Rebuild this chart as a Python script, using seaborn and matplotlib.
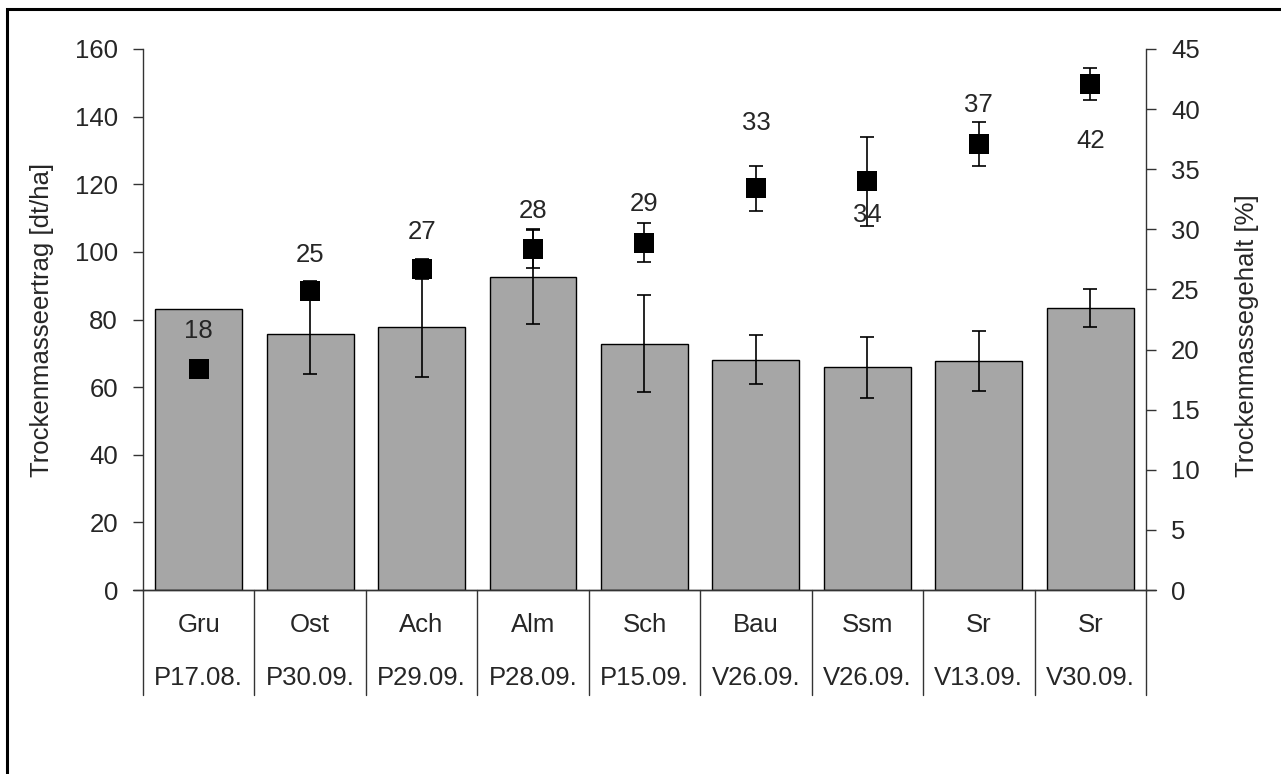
import pandas as pd
import matplotlib
matplotlib.use("Agg")
import matplotlib.pyplot as plt
from matplotlib.patches import Rectangle
import seaborn as sns
import numpy as np

# --- Données ---
sorten = ["Gru", "Ost", "Ach", "Alm", "Sch", "Bau", "Ssm", "Sr", "Sr"]
termine = ["P17.08.", "P30.09.", "P29.09.", "P28.09.", "P15.09.",
           "V26.09.", "V26.09.", "V13.09.", "V30.09."]
ertrag = [83.2, 75.8, 77.9, 92.6, 72.9, 68.1, 65.9, 67.8, 83.5]          # dt/ha
ertrag_err = [0, 11.8, 15.0, 13.8, 14.2, 7.2, 9.0, 8.8, 5.6]
gehalt = [18.4, 24.9, 26.7, 28.4, 28.9, 33.4, 34.0, 37.1, 42.1]          # %
gehalt_err = [0, 0.8, 0.85, 1.6, 1.65, 1.85, 3.7, 1.8, 1.35]
gehalt_labels = ["18", "25", "27", "28", "29", "33", "34", "37", "42"]

# décalage vertical des étiquettes (points)
label_offsets = [27, 26, 27, 27, 28, 47, -24, 28, -41]

df = pd.DataFrame({
    "key": [f"{s}\n{t}" for s, t in zip(sorten, termine)],
    "ertrag": ertrag,
    "gehalt": gehalt,
})

sns.set_style("white")
plt.rcParams["font.family"] = ["Liberation Sans", "DejaVu Sans"]
fs = 18.5

fig = plt.figure(figsize=(12.81, 7.74), dpi=100)
ax = fig.add_axes([0.1116, 0.2377, 0.783, 0.699])
ax2 = ax.twinx()

# barres
sns.barplot(data=df, x="key", y="ertrag", order=df["key"], color="#a6a6a6",
            saturation=1, edgecolor="black", linewidth=1, width=0.78,
            errorbar=None, ax=ax)
x = np.arange(len(df))
err = np.array(ertrag_err)
m = err > 0
ax.errorbar(x[m], np.array(ertrag)[m], yerr=err[m], fmt="none", ecolor="black",
            elinewidth=1.2, capsize=5, capthick=1.2)

# carrés (axe droit)
sns.scatterplot(x=x, y=gehalt, marker="s", s=190, color="black",
                linewidth=0, ax=ax2, zorder=3)
gerr = np.array(gehalt_err)
mg = gerr > 0
ax2.errorbar(x[mg], np.array(gehalt)[mg], yerr=gerr[mg], fmt="none",
             ecolor="black", elinewidth=1.2, capsize=5, capthick=1.2, zorder=2)
for xi, yi, lab, off in zip(x, gehalt, gehalt_labels, label_offsets):
    ax2.annotate(lab, (xi, yi), xytext=(0, off), textcoords="offset points",
                 ha="center", va="center", fontsize=fs)

# axes
ax.set_xlim(-0.5, len(df) - 0.5)
ax.set_ylim(0, 160)
ax.set_yticks(range(0, 161, 20))
ax2.set_ylim(0, 45)
ax2.set_yticks(range(0, 46, 5))
ax.set_xticks([])
ax.set_xlabel("")
ax.set_ylabel("Trockenmasseertrag [dt/ha]", fontsize=fs)
ax2.set_ylabel("Trockenmassegehalt [%]", fontsize=fs, rotation=90)
ax.yaxis.set_label_coords(-0.089, 0.5)
ax2.yaxis.set_label_coords(1.089, 0.47)

for a in (ax, ax2):
    a.tick_params(axis="y", direction="out", length=7, width=1, pad=11,
                  labelsize=fs, color="#333333")
    a.spines["top"].set_visible(False)
    for s in ("left", "right", "bottom"):
        a.spines[s].set_color("#333333")
        a.spines[s].set_linewidth(1)
ax.spines["right"].set_visible(False)
ax2.spines["left"].set_visible(False)
ax2.spines["bottom"].set_visible(False)

# étiquettes de catégories à deux niveaux
trans = ax.get_xaxis_transform()
for i, (s, t) in enumerate(zip(sorten, termine)):
    ax.text(i, -0.065, s, transform=trans, ha="center", va="center", fontsize=fs)
    ax.text(i, -0.163, t, transform=trans, ha="center", va="center", fontsize=fs)
for b in np.arange(-0.5, len(df), 1.0):
    ax.plot([b, b], [0, -0.194], transform=trans, color="#333333", lw=1,
            clip_on=False)
# petit prolongement de l'axe x vers les graduations 0
ax.plot([-0.59, 8.59], [0, 0], transform=trans, color="#333333", lw=1,
        clip_on=False)

# cadre extérieur
fig.patches.append(Rectangle((7 / 1281, -0.05), 1.2, (774 - 9) / 774 + 0.05,
                             transform=fig.transFigure, fill=False,
                             edgecolor="black", linewidth=2.2))

fig.savefig("out.png", dpi=100)
